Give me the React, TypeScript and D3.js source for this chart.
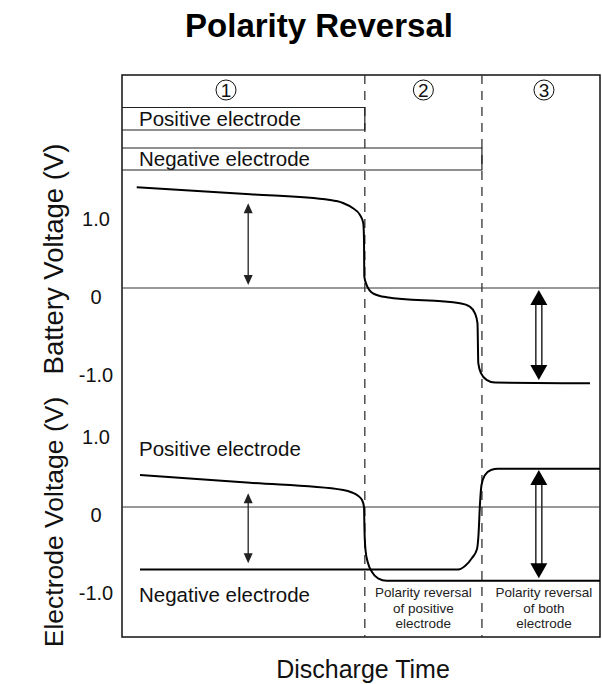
import React from "react";
import * as d3 from "d3";

// ---- data (discharge time in arbitrary units 0..100, voltage in V) ----
const phaseLabels = ["1", "2", "3"];
const phaseBounds = [0, 50.8, 75.3, 100];

const batteryT = [3.08, 26.8, 43.51, 46.23, 48.33, 49.79, 50.48, 50.63, 50.69, 51.19, 52.51, 55.38, 70.71, 72.8, 73.85, 74.37, 74.54, 75.1, 76.36, 78.03, 97.91];
const batteryV = [1.291, 1.203, 1.128, 1.09, 1.022, 0.936, 0.83, 0.62, 0.145, 0.038, -0.068, -0.119, -0.196, -0.24, -0.325, -0.453, -0.962, -1.09, -1.18, -1.213, -1.222];

const positiveT = [3.77, 26.8, 46.3, 48.12, 49.44, 50.21, 50.63, 50.73, 50.94, 51.46, 52.3, 53.56, 55.38, 100];
const positiveV = [0.41, 0.31, 0.218, 0.186, 0.141, 0.09, 0.0, -0.295, -0.551, -0.718, -0.833, -0.914, -0.945, -0.945];

const negativeT = [3.77, 70.36, 71.76, 73.22, 74.27, 74.58, 74.9, 75.21, 75.94, 77.2, 78.66, 100];
const negativeV = [-0.8, -0.8, -0.756, -0.654, -0.538, -0.359, 0.051, 0.282, 0.41, 0.474, 0.491, 0.491];

const tickValues = [1, 0, -1];
const tickLabels = ["1.0", "0", "-1.0"];

// arrows: [t, vTop, vBottom]
const batteryThinArrow = [26.4, 1.086, 0.04];
const batteryBoldArrow = [87.2, -0.026, -1.18];
const electrodeThinArrow = [26.4, 0.176, -0.72];
const electrodeBoldArrow = [87.2, 0.474, -0.914];

const phase2Note = ["Polarity reversal", "of positive", "electrode"];
const phase3Note = ["Polarity reversal", "of both", "electrode"];

const FONT = "'Liberation Sans', Arial, Helvetica, sans-serif";

function ThinArrow({ x, y1, y2 }: { x: number; y1: number; y2: number }) {
  const L = 10, H = 4.5;
  return (
    <g>
      <line x1={x} x2={x} y1={y1 + L - 1} y2={y2 - L + 1} stroke="#222" strokeWidth={1.3} />
      <path d={`M${x},${y1} L${x - H},${y1 + L} L${x + H},${y1 + L} Z`} fill="#222" />
      <path d={`M${x},${y2} L${x - H},${y2 - L} L${x + H},${y2 - L} Z`} fill="#222" />
    </g>
  );
}

function BoldArrow({ x, y1, y2 }: { x: number; y1: number; y2: number }) {
  const L = 15, H = 8.5, g = 3;
  return (
    <g>
      <line x1={x - g} x2={x - g} y1={y1 + L - 1} y2={y2 - L + 1} stroke="#333" strokeWidth={1.6} />
      <line x1={x + g} x2={x + g} y1={y1 + L - 1} y2={y2 - L + 1} stroke="#333" strokeWidth={1.6} />
      <path d={`M${x},${y1} L${x - H},${y1 + L} L${x + H},${y1 + L} Z`} fill="#000" />
      <path d={`M${x},${y2} L${x - H},${y2 - L} L${x + H},${y2 - L} Z`} fill="#000" />
    </g>
  );
}

export default function App() {
  const W = 602, H = 684;
  const left = 122, right = 600, top = 75, bottom = 637;
  const x = d3.scaleLinear().domain([0, 100]).range([left, right]);
  const yB = d3.scaleLinear().domain([0, 1]).range([288, 210]);
  const yE = d3.scaleLinear().domain([0, 1]).range([507, 429]);

  const mk = (ts: number[], vs: number[], y: d3.ScaleLinear<number, number>) =>
    d3
      .line<number>()
      .x((_, i) => x(ts[i]))
      .y((_, i) => y(vs[i]))
      .curve(d3.curveMonotoneX)(ts) as string;

  const battPath = mk(batteryT, batteryV, yB);
  const posPath = mk(positiveT, positiveV, yE);
  const negPath = mk(negativeT, negativeV, yE);

  const xb1 = x(phaseBounds[1]);
  const xb2 = x(phaseBounds[2]);

  return (
    <svg width={W} height={H} style={{ position: "absolute", left: 0, top: 0, background: "#fff" }} fontFamily={FONT}>
      <rect x={0} y={0} width={W} height={H} fill="#fff" />
      <text x={319} y={37} textAnchor="middle" fontSize={33} fontWeight="bold" fill="#000">
        Polarity Reversal
      </text>

      {/* frame */}
      <rect x={left} y={top} width={right - left} height={bottom - top} fill="none" stroke="#111" strokeWidth={1.5} />

      {/* phase boundaries */}
      {[xb1, xb2].map((xx, i) => (
        <line key={i} x1={xx} x2={xx} y1={top} y2={bottom} stroke="#333" strokeWidth={1.3} strokeDasharray="9,7" />
      ))}

      {/* circled phase numbers */}
      {phaseLabels.map((lab, i) => {
        const cx = i === 0 ? 226 : (x(phaseBounds[i]) + x(phaseBounds[i + 1])) / 2 + (i === 2 ? 3 : 0);
        return (
          <g key={lab}>
            <circle cx={cx} cy={90} r={10} fill="none" stroke="#111" strokeWidth={1} />
            <text x={cx} y={97} textAnchor="middle" fontSize={19} fill="#111">
              {lab}
            </text>
          </g>
        );
      })}

      {/* electrode bands */}
      <path d={`M${left},107.5 H${xb1} V130 H${left}`} fill="none" stroke="#222" strokeWidth={1.2} />
      <path d={`M${left},148 H${xb2} V170 H${left}`} fill="none" stroke="#222" strokeWidth={1.2} />
      <text x={139} y={126} fontSize={20.5} fill="#111">Positive electrode</text>
      <text x={139} y={166} fontSize={20.5} fill="#111">Negative electrode</text>

      {/* zero lines */}
      <line x1={left} x2={right} y1={yB(0)} y2={yB(0)} stroke="#333" strokeWidth={1} />
      <line x1={left} x2={right} y1={yE(0)} y2={yE(0)} stroke="#333" strokeWidth={1} />

      {/* curves */}
      <path d={battPath} fill="none" stroke="#000" strokeWidth={2} />
      <path d={posPath} fill="none" stroke="#000" strokeWidth={2} />
      <path d={negPath} fill="none" stroke="#000" strokeWidth={2} />

      {/* arrows */}
      <ThinArrow x={x(batteryThinArrow[0])} y1={yB(batteryThinArrow[1])} y2={yB(batteryThinArrow[2])} />
      <BoldArrow x={x(batteryBoldArrow[0])} y1={yB(batteryBoldArrow[1])} y2={yB(batteryBoldArrow[2])} />
      <ThinArrow x={x(electrodeThinArrow[0])} y1={yE(electrodeThinArrow[1])} y2={yE(electrodeThinArrow[2])} />
      <BoldArrow x={x(electrodeBoldArrow[0])} y1={yE(electrodeBoldArrow[1])} y2={yE(electrodeBoldArrow[2])} />

      {/* electrode labels */}
      <text x={139} y={456} fontSize={20.5} fill="#111">Positive electrode</text>
      <text x={139} y={602} fontSize={20.5} fill="#111">Negative electrode</text>

      {/* notes */}
      {phase2Note.map((s, i) => (
        <text key={"a" + i} x={(xb1 + xb2) / 2} y={597 + i * 15.5} textAnchor="middle" fontSize={13.5} fill="#222">
          {s}
        </text>
      ))}
      {phase3Note.map((s, i) => (
        <text key={"b" + i} x={(xb2 + right) / 2 + 3} y={597 + i * 15.5} textAnchor="middle" fontSize={13.5} fill="#222">
          {s}
        </text>
      ))}

      {/* y tick labels */}
      {tickValues.map((v, i) => (
        <text key={"tb" + i} x={96} y={yB(v) + 16} textAnchor="middle" fontSize={20} fill="#111">
          {tickLabels[i]}
        </text>
      ))}
      {tickValues.map((v, i) => (
        <text key={"te" + i} x={96} y={yE(v) + 15} textAnchor="middle" fontSize={20} fill="#111">
          {tickLabels[i]}
        </text>
      ))}

      {/* axis titles */}
      <text transform="translate(63,259) rotate(-90)" textAnchor="middle" fontSize={27.5} fill="#111">
        Battery Voltage (V)
      </text>
      <text transform="translate(63,522) rotate(-90)" textAnchor="middle" fontSize={26.5} fill="#111">
        Electrode Voltage (V)
      </text>
      <text x={363} y={678} textAnchor="middle" fontSize={25} fill="#111">
        Discharge Time
      </text>
    </svg>
  );
}
